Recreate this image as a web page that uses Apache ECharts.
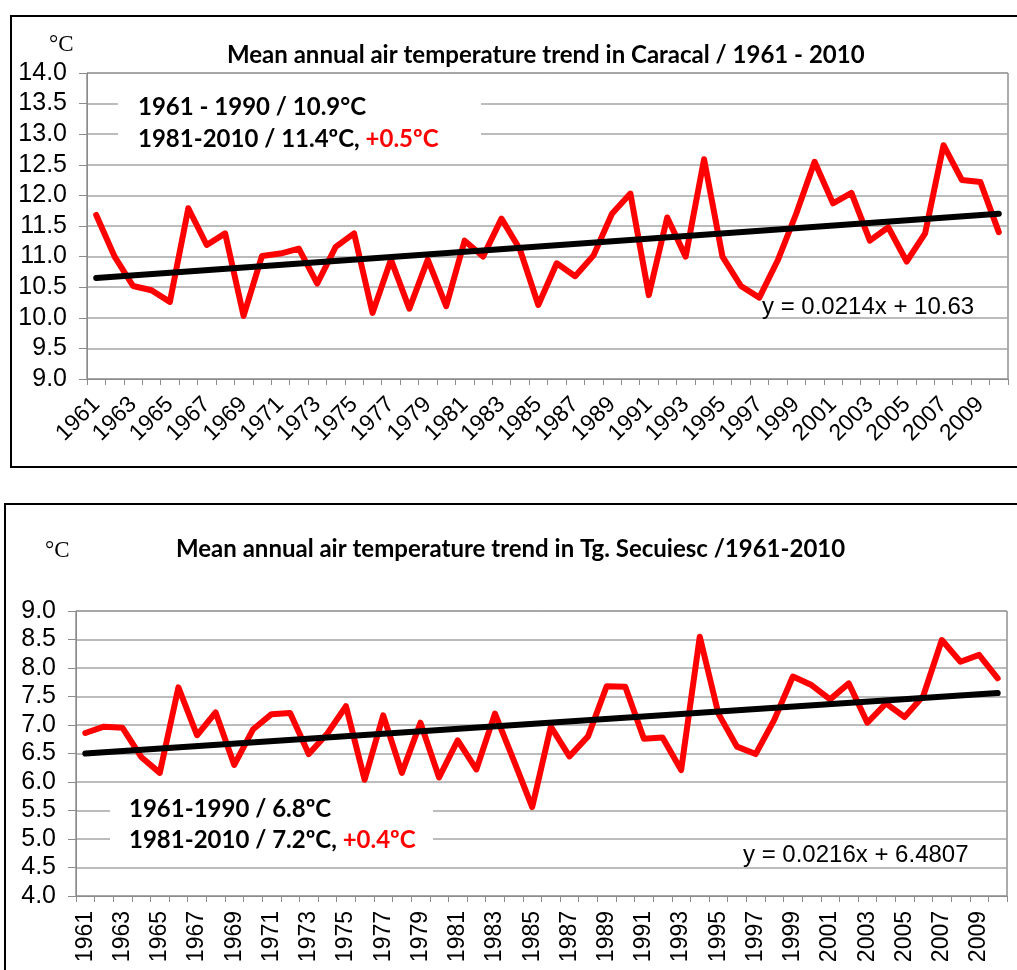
<!DOCTYPE html>
<html lang="en">
<head>
<meta charset="UTF-8">
<title>Mean annual air temperature trend</title>
<script src="https://cdn.jsdelivr.net/npm/echarts@6/dist/echarts.min.js"></script>
<style>
    html, body { margin: 0; padding: 0; background: #fff; }
    #main { width: 1017px; height: 970px; }
</style>
</head>
<body>
<div id="main"></div>
<script>
// years on the category axis
var years = ['1961','1962','1963','1964','1965','1966','1967','1968','1969','1970',
             '1971','1972','1973','1974','1975','1976','1977','1978','1979','1980',
             '1981','1982','1983','1984','1985','1986','1987','1988','1989','1990',
             '1991','1992','1993','1994','1995','1996','1997','1998','1999','2000',
             '2001','2002','2003','2004','2005','2006','2007','2008','2009','2010'];

// Caracal, mean annual temperature (°C)
var caracal = [11.68, 11.00, 10.52, 10.45, 10.26, 11.79, 11.19, 11.38, 10.03, 11.01,
               11.05, 11.13, 10.56, 11.16, 11.38, 10.08, 10.95, 10.15, 10.95, 10.19,
               11.26, 11.00, 11.62, 11.12, 10.21, 10.89, 10.68, 11.02, 11.70, 12.03,
               10.37, 11.64, 11.00, 12.59, 11.00, 10.52, 10.33, 10.94, 11.70, 12.55,
               11.87, 12.04, 11.26, 11.48, 10.92, 11.38, 12.82, 12.25, 12.22, 11.40];
// linear trend ends (1961, 2010)
var caracalTrend = [10.65, 11.70];

// Tg. Secuiesc, mean annual temperature (°C)
var secuiesc = [6.86, 6.97, 6.95, 6.44, 6.16, 7.66, 6.82, 7.22, 6.30, 6.92,
                7.19, 7.21, 6.49, 6.85, 7.33, 6.04, 7.17, 6.16, 7.04, 6.08,
                6.73, 6.22, 7.20, 6.39, 5.56, 6.97, 6.45, 6.80, 7.68, 7.67,
                6.76, 6.78, 6.21, 8.55, 7.20, 6.62, 6.49, 7.09, 7.85, 7.70,
                7.45, 7.73, 7.04, 7.38, 7.14, 7.51, 8.49, 8.11, 8.23, 7.82];
var secuiescTrend = [6.50, 7.56];

var axisFont = 'Liberation Sans';
var boldFont = 'Lato';

var myChart = echarts.init(document.getElementById('main'));

function xAxisFor(gridIndex, rotate, margin) {
    return {
        type: 'category',
        gridIndex: gridIndex,
        data: years,
        boundaryGap: true,
        axisLine: { show: true, lineStyle: { color: '#8c8c8c', width: 1 } },
        axisTick: { show: true, interval: 0, length: 6, lineStyle: { color: '#8c8c8c' } },
        axisLabel: {
            interval: 1, rotate: rotate, margin: margin,
            color: '#000', fontFamily: axisFont, fontSize: 23
        },
        splitLine: { show: false }
    };
}

function yAxisFor(gridIndex, min, max) {
    return {
        type: 'value',
        gridIndex: gridIndex,
        min: min, max: max, interval: 0.5,
        axisLine: { show: true, lineStyle: { color: '#8c8c8c', width: 1 } },
        axisTick: { show: true, length: 8, lineStyle: { color: '#8c8c8c' } },
        axisLabel: {
            margin: 20, color: '#000', fontFamily: axisFont, fontSize: 25,
            formatter: function (v) { return v.toFixed(1); }
        },
        splitLine: { show: true, lineStyle: { color: '#a6a6a6', width: 1.5 } }
    };
}

function pairs(t) {
    return [[years[0], t[0]], [years[years.length - 1], t[1]]];
}

var noteStyle = { fontFamily: boldFont, fontWeight: 'bold', fontSize: 24, fill: '#000' };
function note(x, y, txt) {
    return { type: 'text', z: 10, style: Object.assign({ x: x, y: y, verticalAlign: 'middle', text: txt }, noteStyle) };
}
function noteRed(x, y, black, red) {
    return { type: 'text', z: 10, style: {
        x: x, y: y, verticalAlign: 'middle',
        text: '{a|' + black + '}{r|' + red + '}',
        rich: {
            a: { fontFamily: boldFont, fontWeight: 'bold', fontSize: 24, fill: '#000' },
            r: { fontFamily: boldFont, fontWeight: 'bold', fontSize: 24, fill: '#ff0000' }
        } } };
}

var option = {
    backgroundColor: '#fff',
    animation: false,
    title: [
        {
            text: 'Mean annual air temperature trend in Caracal / 1961 - 2010',
            left: 222, top: 38,
            textStyle: { fontFamily: boldFont, fontWeight: 'bold', fontSize: 24, color: '#000' }
        },
        {
            text: 'Mean annual air temperature trend in Tg. Secuiesc /1961-2010',
            left: 171, top: 532,
            textStyle: { fontFamily: boldFont, fontWeight: 'bold', fontSize: 24, color: '#000' }
        }
    ],
    grid: [
        { left: 87, right: 9, top: 73, height: 306, show: true, borderColor: '#595959', borderWidth: 1, outerBoundsMode: 'none' },
        { left: 76, right: 10, top: 611, height: 285, show: true, borderColor: '#595959', borderWidth: 1, outerBoundsMode: 'none' }
    ],
    xAxis: [xAxisFor(0, 45, 22), xAxisFor(1, 90, 15)],
    yAxis: [yAxisFor(0, 9, 14), yAxisFor(1, 4, 9)],
    series: [
        {
            type: 'line', xAxisIndex: 0, yAxisIndex: 0, data: caracal,
            showSymbol: false, silent: true, z: 3,
            lineStyle: { color: '#ff0000', width: 6, join: 'round', cap: 'round' }
        },
        {
            type: 'line', xAxisIndex: 0, yAxisIndex: 0, data: pairs(caracalTrend),
            showSymbol: false, silent: true, z: 4,
            lineStyle: { color: '#000', width: 6, cap: 'round' }
        },
        {
            type: 'line', xAxisIndex: 1, yAxisIndex: 1, data: secuiesc,
            showSymbol: false, silent: true, z: 3,
            lineStyle: { color: '#ff0000', width: 6, join: 'round', cap: 'round' }
        },
        {
            type: 'line', xAxisIndex: 1, yAxisIndex: 1, data: pairs(secuiescTrend),
            showSymbol: false, silent: true, z: 4,
            lineStyle: { color: '#000', width: 6, cap: 'round' }
        }
    ],
    graphic: [
        // frames round the two pictures
        { type: 'rect', z: 10, shape: { x: 11, y: 16, width: 1030, height: 451 },
          style: { fill: 'none', stroke: '#000', lineWidth: 2 } },
        { type: 'rect', z: 10, shape: { x: 5, y: 504, width: 1040, height: 500 },
          style: { fill: 'none', stroke: '#000', lineWidth: 2 } },
        // unit labels
        { type: 'text', z: 10, style: { x: 49, y: 45, text: '°C', fontFamily: 'Liberation Serif', fontSize: 23, fill: '#000', verticalAlign: 'middle' } },
        { type: 'text', z: 10, style: { x: 45, y: 551, text: '°C', fontFamily: 'Liberation Serif', fontSize: 23, fill: '#000', verticalAlign: 'middle' } },
        // white boxes behind the period notes
        { type: 'rect', z: 1, shape: { x: 118, y: 88, width: 363, height: 68 }, style: { fill: '#fff' } },
        { type: 'rect', z: 1, shape: { x: 110, y: 787, width: 323, height: 70 }, style: { fill: '#fff' } },
        // period notes
        note(138, 107, '1961 - 1990 / 10.9°C'),
        noteRed(138, 139, '1981-2010 / 11.4ºC, ', '+0.5ºC'),
        note(129, 809, '1961-1990 / 6.8ºC'),
        noteRed(129, 840, '1981-2010 / 7.2ºC, ', '+0.4ºC'),
        // trend equations
        { type: 'text', z: 10, style: {
            x: 762, y: 307, verticalAlign: 'middle',
            text: 'y = 0.0214x + 10.63',
            fontFamily: axisFont, fontSize: 24, fill: '#000' } },
        { type: 'text', z: 10, style: {
            x: 743, y: 855, verticalAlign: 'middle',
            text: 'y = 0.0216x + 6.4807',
            fontFamily: axisFont, fontSize: 24, fill: '#000' } }
    ]
};

myChart.setOption(option);
</script>
</body>
</html>
